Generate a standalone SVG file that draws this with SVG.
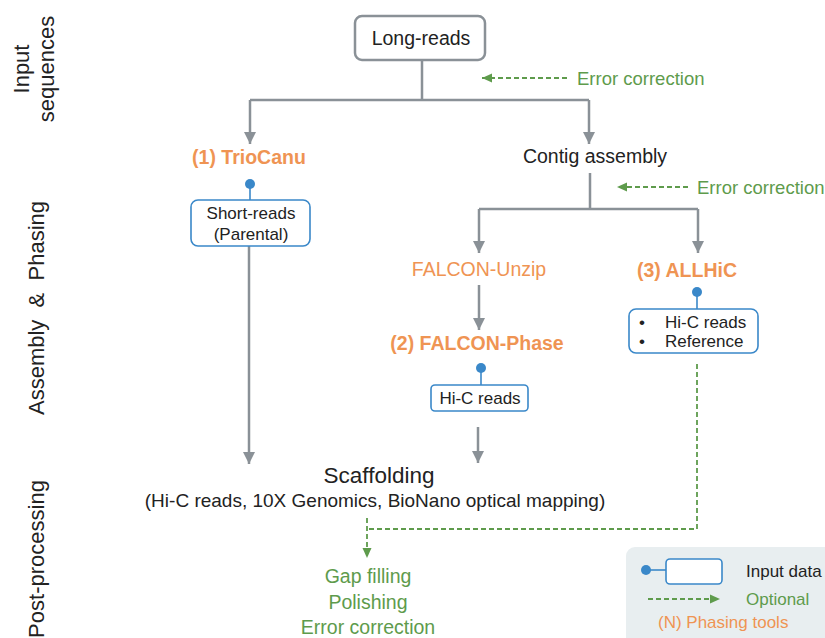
<svg xmlns="http://www.w3.org/2000/svg" width="825" height="638" viewBox="0 0 825 638">
<style>
text{font-family:"Liberation Sans",Arial,sans-serif;}
.lbl{font-size:22px;fill:#222;}
.main{font-size:19.5px;fill:#222;text-anchor:middle;}
.tool{font-size:19.5px;fill:#ef9453;font-weight:bold;text-anchor:middle;}
.toolr{font-size:19.5px;fill:#ef9453;text-anchor:middle;}
.green{font-size:18.5px;fill:#5e9b4c;}
.gc{font-size:19.5px;fill:#5e9b4c;text-anchor:middle;}
.box{font-size:17px;fill:#222;}
.ibox{fill:#fff;stroke:#3a88c9;stroke-width:1.6;}
.dot{fill:#3a88c9;}
.pin{stroke:#3a88c9;stroke-width:1.6;}
.arr{fill:none;stroke:#8a9197;stroke-width:2.5;}
.arrh{fill:none;stroke:#8a9197;stroke-width:2.5;marker-end:url(#ga);}
.dash{fill:none;stroke:#5e9b4c;stroke-width:1.8;stroke-dasharray:5 3;}
.dasha{fill:none;stroke:#5e9b4c;stroke-width:1.8;stroke-dasharray:5 3;marker-end:url(#gr);}
</style>
<defs>
<marker id="ga" markerUnits="userSpaceOnUse" markerWidth="12" markerHeight="12" viewBox="0 0 12 12" refX="12" refY="6" orient="auto">
<path d="M0,0 L12,6 L0,12 Z" fill="#8a9197"/>
</marker>
<marker id="gr" markerUnits="userSpaceOnUse" markerWidth="10" markerHeight="10" viewBox="0 0 10 10" refX="10" refY="5" orient="auto">
<path d="M0,0.5 L10,5 L0,9.5 Z" fill="#5e9b4c"/>
</marker>
</defs>

<g id="stage-labels">
<text class="lbl" transform="translate(29,69) rotate(-90)" text-anchor="middle">Input</text>
<text class="lbl" transform="translate(54,69) rotate(-90)" text-anchor="middle">sequences</text>
<text class="lbl" transform="translate(44,308) rotate(-90)" text-anchor="middle" xml:space="preserve">Assembly  &amp;  Phasing</text>
<text class="lbl" transform="translate(44,559) rotate(-90)" text-anchor="middle">Post-processing</text>
</g>

<g id="connectors">
<path class="arr" d="M422,60 V100 M250,100 H589"/>
<path class="arrh" d="M250,100 V144"/>
<path class="arrh" d="M589,100 V144"/>
<path class="arr" d="M590,173 V209 M479,209 H698"/>
<path class="arrh" d="M479,209 V253"/>
<path class="arrh" d="M698,209 V253"/>
<path class="arrh" d="M479,285 V330"/>
<path class="arrh" d="M478,427 V463"/>
<path class="arrh" d="M249,246 V464"/>
<path class="dasha" d="M567,78 H482"/>
<path class="dasha" d="M688,187 H617"/>
<path class="dash" d="M697,364 V529 H367"/>
<path class="dasha" d="M367,518 V558"/>
</g>

<g id="long-reads">
<rect x="355" y="16" width="130" height="44" rx="7" fill="#fff" stroke="#8a9197" stroke-width="2.5"/>
<text class="main" x="421" y="45">Long-reads</text>
</g>

<g id="error-correction-1">
<text class="green" x="577" y="85">Error correction</text>
</g>

<g id="triocanu">
<text class="tool" x="249" y="164">(1) TrioCanu</text>
<line class="pin" x1="250" y1="184" x2="250" y2="200"/>
<circle class="dot" cx="250" cy="184" r="5"/>
<rect class="ibox" x="191" y="200" width="119" height="46" rx="7"/>
<text class="box" x="251" y="219" text-anchor="middle">Short-reads</text>
<text class="box" x="251" y="240" text-anchor="middle">(Parental)</text>
</g>

<g id="contig-assembly">
<text class="main" x="595" y="163">Contig assembly</text>
</g>

<g id="error-correction-2">
<text class="green" x="697" y="194">Error correction</text>
</g>

<g id="falcon-unzip">
<text class="toolr" x="479" y="276">FALCON-Unzip</text>
</g>

<g id="falcon-phase">
<text class="tool" x="477" y="350">(2) FALCON-Phase</text>
<line class="pin" x1="481" y1="368" x2="481" y2="385"/>
<circle class="dot" cx="481" cy="368" r="5"/>
<rect class="ibox" x="431" y="385" width="97" height="26" rx="4"/>
<text class="box" x="480" y="404" text-anchor="middle">Hi-C reads</text>
</g>

<g id="allhic">
<text class="tool" x="687" y="277">(3) ALLHiC</text>
<line class="pin" x1="697" y1="292" x2="697" y2="309"/>
<circle class="dot" cx="697" cy="292" r="5"/>
<rect class="ibox" x="629" y="309" width="129" height="44" rx="7"/>
<text class="box" x="639" y="328">•</text>
<text class="box" x="665" y="328">Hi-C reads</text>
<text class="box" x="639" y="347">•</text>
<text class="box" x="665" y="347">Reference</text>
</g>

<g id="scaffolding">
<text class="main" x="379" y="483" style="font-size:22.5px">Scaffolding</text>
<text class="main" x="375" y="507" style="font-size:19px">(Hi-C reads, 10X Genomics, BioNano optical mapping)</text>
</g>

<g id="post-processing">
<text class="gc" x="368" y="583">Gap filling</text>
<text class="gc" x="368" y="609">Polishing</text>
<text class="gc" x="368" y="634">Error correction</text>
</g>

<g id="legend">
<rect x="626" y="547" width="215" height="100" rx="9" fill="#e8eef0"/>
<line class="pin" x1="646" y1="570" x2="666" y2="570"/>
<circle class="dot" cx="646" cy="570" r="5"/>
<rect class="ibox" x="666" y="559" width="56" height="25" rx="4"/>
<text class="box" x="746" y="577">Input data</text>
<path class="dasha" d="M648,599 H720"/>
<text class="box" x="746" y="605" style="fill:#5e9b4c">Optional</text>
<text class="box" x="658" y="628" style="fill:#ef9453">(N) Phasing tools</text>
</g>
</svg>
